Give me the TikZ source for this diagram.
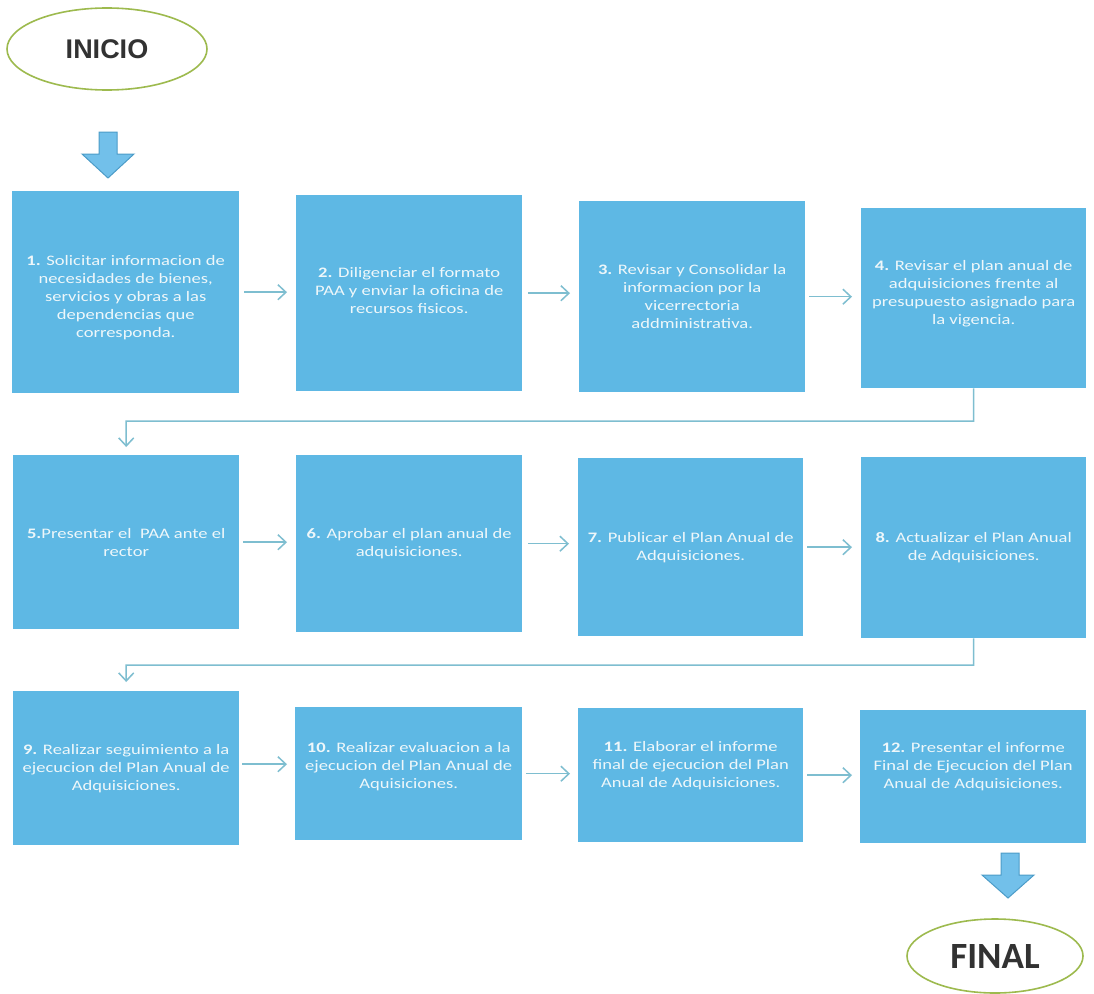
\documentclass[tikz,border=0pt]{standalone}
\usepackage{fontspec}
\setmainfont{Carlito}
\newfontfamily\boxfont[FakeStretch=1.28]{Carlito}
\newfontfamily\inifont{Liberation Sans}
\usetikzlibrary{arrows.meta,shapes.geometric}
\definecolor{boxblue}{RGB}{94,184,228}
\definecolor{boxtext}{RGB}{238,247,250}
\definecolor{connblue}{RGB}{126,190,208}
\definecolor{arrowfill}{RGB}{114,192,234}
\definecolor{arrowline}{RGB}{76,156,200}
\definecolor{termline}{RGB}{157,186,78}
\definecolor{termtext}{RGB}{50,50,50}
\begin{document}
\begin{tikzpicture}[x=1pt,y=-1pt,
  stepbox/.style={fill=boxblue, draw=none, inner sep=0pt, anchor=north west},
  steptext/.style={text=boxtext, align=center, inner sep=0pt,
    font=\boxfont\fontsize{14.5}{18}\selectfont},
  conn/.style={draw=connblue, line width=1.5pt,
    -{Straight Barb[length=8pt,width=15pt,line width=1.5pt]}},
  plainconn/.style={draw=connblue, line width=1.5pt},
  blockarrow/.style={fill=arrowfill, draw=arrowline, line width=1pt},
  term/.style={ellipse, draw=termline, line width=1.6pt, fill=white, text=termtext, inner sep=0pt}
]
\useasboundingbox (0,0) rectangle (1094,993);
\fill[white] (0,0) rectangle (1094,993);

% terminals
\node[term, minimum width=200pt, minimum height=82pt,
  font=\inifont\bfseries\fontsize{27}{30}\selectfont] (inicio) at (107,49) {INICIO};
\node[term, minimum width=176pt, minimum height=74pt,
  font=\bfseries\fontsize{37}{40}\selectfont] (final) at (995,956) {FINAL};

% boxes row 1
\node[stepbox, minimum width=227pt, minimum height=202pt] (b1) at (12,191) {};
\node[stepbox, minimum width=226pt, minimum height=196pt] (b2) at (296,195) {};
\node[stepbox, minimum width=226pt, minimum height=191pt] (b3) at (579,201) {};
\node[stepbox, minimum width=225pt, minimum height=180pt] (b4) at (861,208) {};
% row 2
\node[stepbox, minimum width=226pt, minimum height=174pt] (b5) at (13,455) {};
\node[stepbox, minimum width=226pt, minimum height=177pt] (b6) at (296,455) {};
\node[stepbox, minimum width=225pt, minimum height=178pt] (b7) at (578,458) {};
\node[stepbox, minimum width=225pt, minimum height=181pt] (b8) at (861,457) {};
% row 3
\node[stepbox, minimum width=226pt, minimum height=154pt] (b9) at (13,691) {};
\node[stepbox, minimum width=227pt, minimum height=133pt] (b10) at (295,707) {};
\node[stepbox, minimum width=225pt, minimum height=134pt] (b11) at (578,708) {};
\node[stepbox, minimum width=226pt, minimum height=133pt] (b12) at (860,710) {};

% texts
\node[steptext, yshift=-5pt] (t1) at (b1.center) {\textbf{1.} Solicitar informacion de\\necesidades de bienes,\\servicios y obras a las\\dependencias que\\corresponda.};
\node[steptext, yshift=3pt] (t2) at (b2.center) {\textbf{2.} Diligenciar el formato\\PAA y enviar la oficina de\\recursos fisicos.};
\node[steptext] (t3) at (b3.center) {\textbf{3.} Revisar y Consolidar la\\informacion por la\\vicerrectoria\\addministrativa.};
\node[steptext, yshift=4pt] (t4) at (b4.center) {\textbf{4.} Revisar el plan anual de\\adquisiciones frente al\\presupuesto asignado para\\la vigencia.};
\node[steptext] (t5) at (b5.center) {\textbf{5.}Presentar el \ PAA ante el\\rector};
\node[steptext] (t6) at (b6.center) {\textbf{6.} Aprobar el plan anual de\\adquisiciones.};
\node[steptext] (t7) at (b7.center) {\textbf{7.} Publicar el Plan Anual de\\Adquisiciones.};
\node[steptext] (t8) at (b8.center) {\textbf{8.} Actualizar el Plan Anual\\de Adquisiciones.};
\node[steptext] (t9) at (b9.center) {\textbf{9.} Realizar seguimiento a la\\ejecucion del Plan Anual de\\Adquisiciones.};
\node[steptext, yshift=7pt] (t10) at (b10.center) {\textbf{10.} Realizar evaluacion a la\\ejecucion del Plan Anual de\\Aquisiciones.};
\node[steptext, yshift=10pt] (t11) at (b11.center) {\textbf{11.} Elaborar el informe\\final de ejecucion del Plan\\Anual de Adquisiciones.};
\node[steptext, yshift=10pt] (t12) at (b12.center) {\textbf{12.} Presentar el informe\\Final de Ejecucion del Plan\\Anual de Adquisiciones.};

% horizontal connectors
\draw[conn] ([xshift=5pt]b1.east) -- ([xshift=-9pt]b1.east -| b2.west);
\draw[conn] ([xshift=6pt]b2.east) -- ([xshift=-9pt]b2.east -| b3.west);
\draw[conn] ([xshift=4pt]b3.east) -- ([xshift=-9pt]b3.east -| b4.west);
\draw[conn] ([xshift=4pt]b5.east) -- ([xshift=-9pt]b5.east -| b6.west);
\draw[conn] ([xshift=6pt]b6.east) -- ([xshift=-9pt]b6.east -| b7.west);
\draw[conn] ([xshift=4pt]b7.east) -- ([xshift=-9pt]b7.east -| b8.west);
\draw[conn] ([xshift=3pt,yshift=4pt]b9.east) -- ([xshift=-8pt,yshift=4pt]b9.east -| b10.west);
\draw[conn] ([xshift=4pt]b10.east) -- ([xshift=-8pt]b10.east -| b11.west);
\draw[conn] ([xshift=4pt]b11.east) -- ([xshift=-8pt]b11.east -| b12.west);

% elbow connectors
\coordinate (c1) at (973.5,421);
\coordinate (c2) at (973.5,665);
\draw[conn, shorten >=8pt] (b4.south) -- (c1) -| (b5.north);
\draw[conn, shorten >=9pt] (b8.south) -- (c2) -| (b9.north);

% block arrows
\draw[blockarrow] (99,132) -- (117,132) -- (117,154) -- (134,154) -- (108,178) -- (82,154) -- (99,154) -- cycle;
\draw[blockarrow] (1001,853) -- (1019,853) -- (1019,875) -- (1034,875) -- (1008,898) -- (982,875) -- (1001,875) -- cycle;
\end{tikzpicture}
\end{document}
